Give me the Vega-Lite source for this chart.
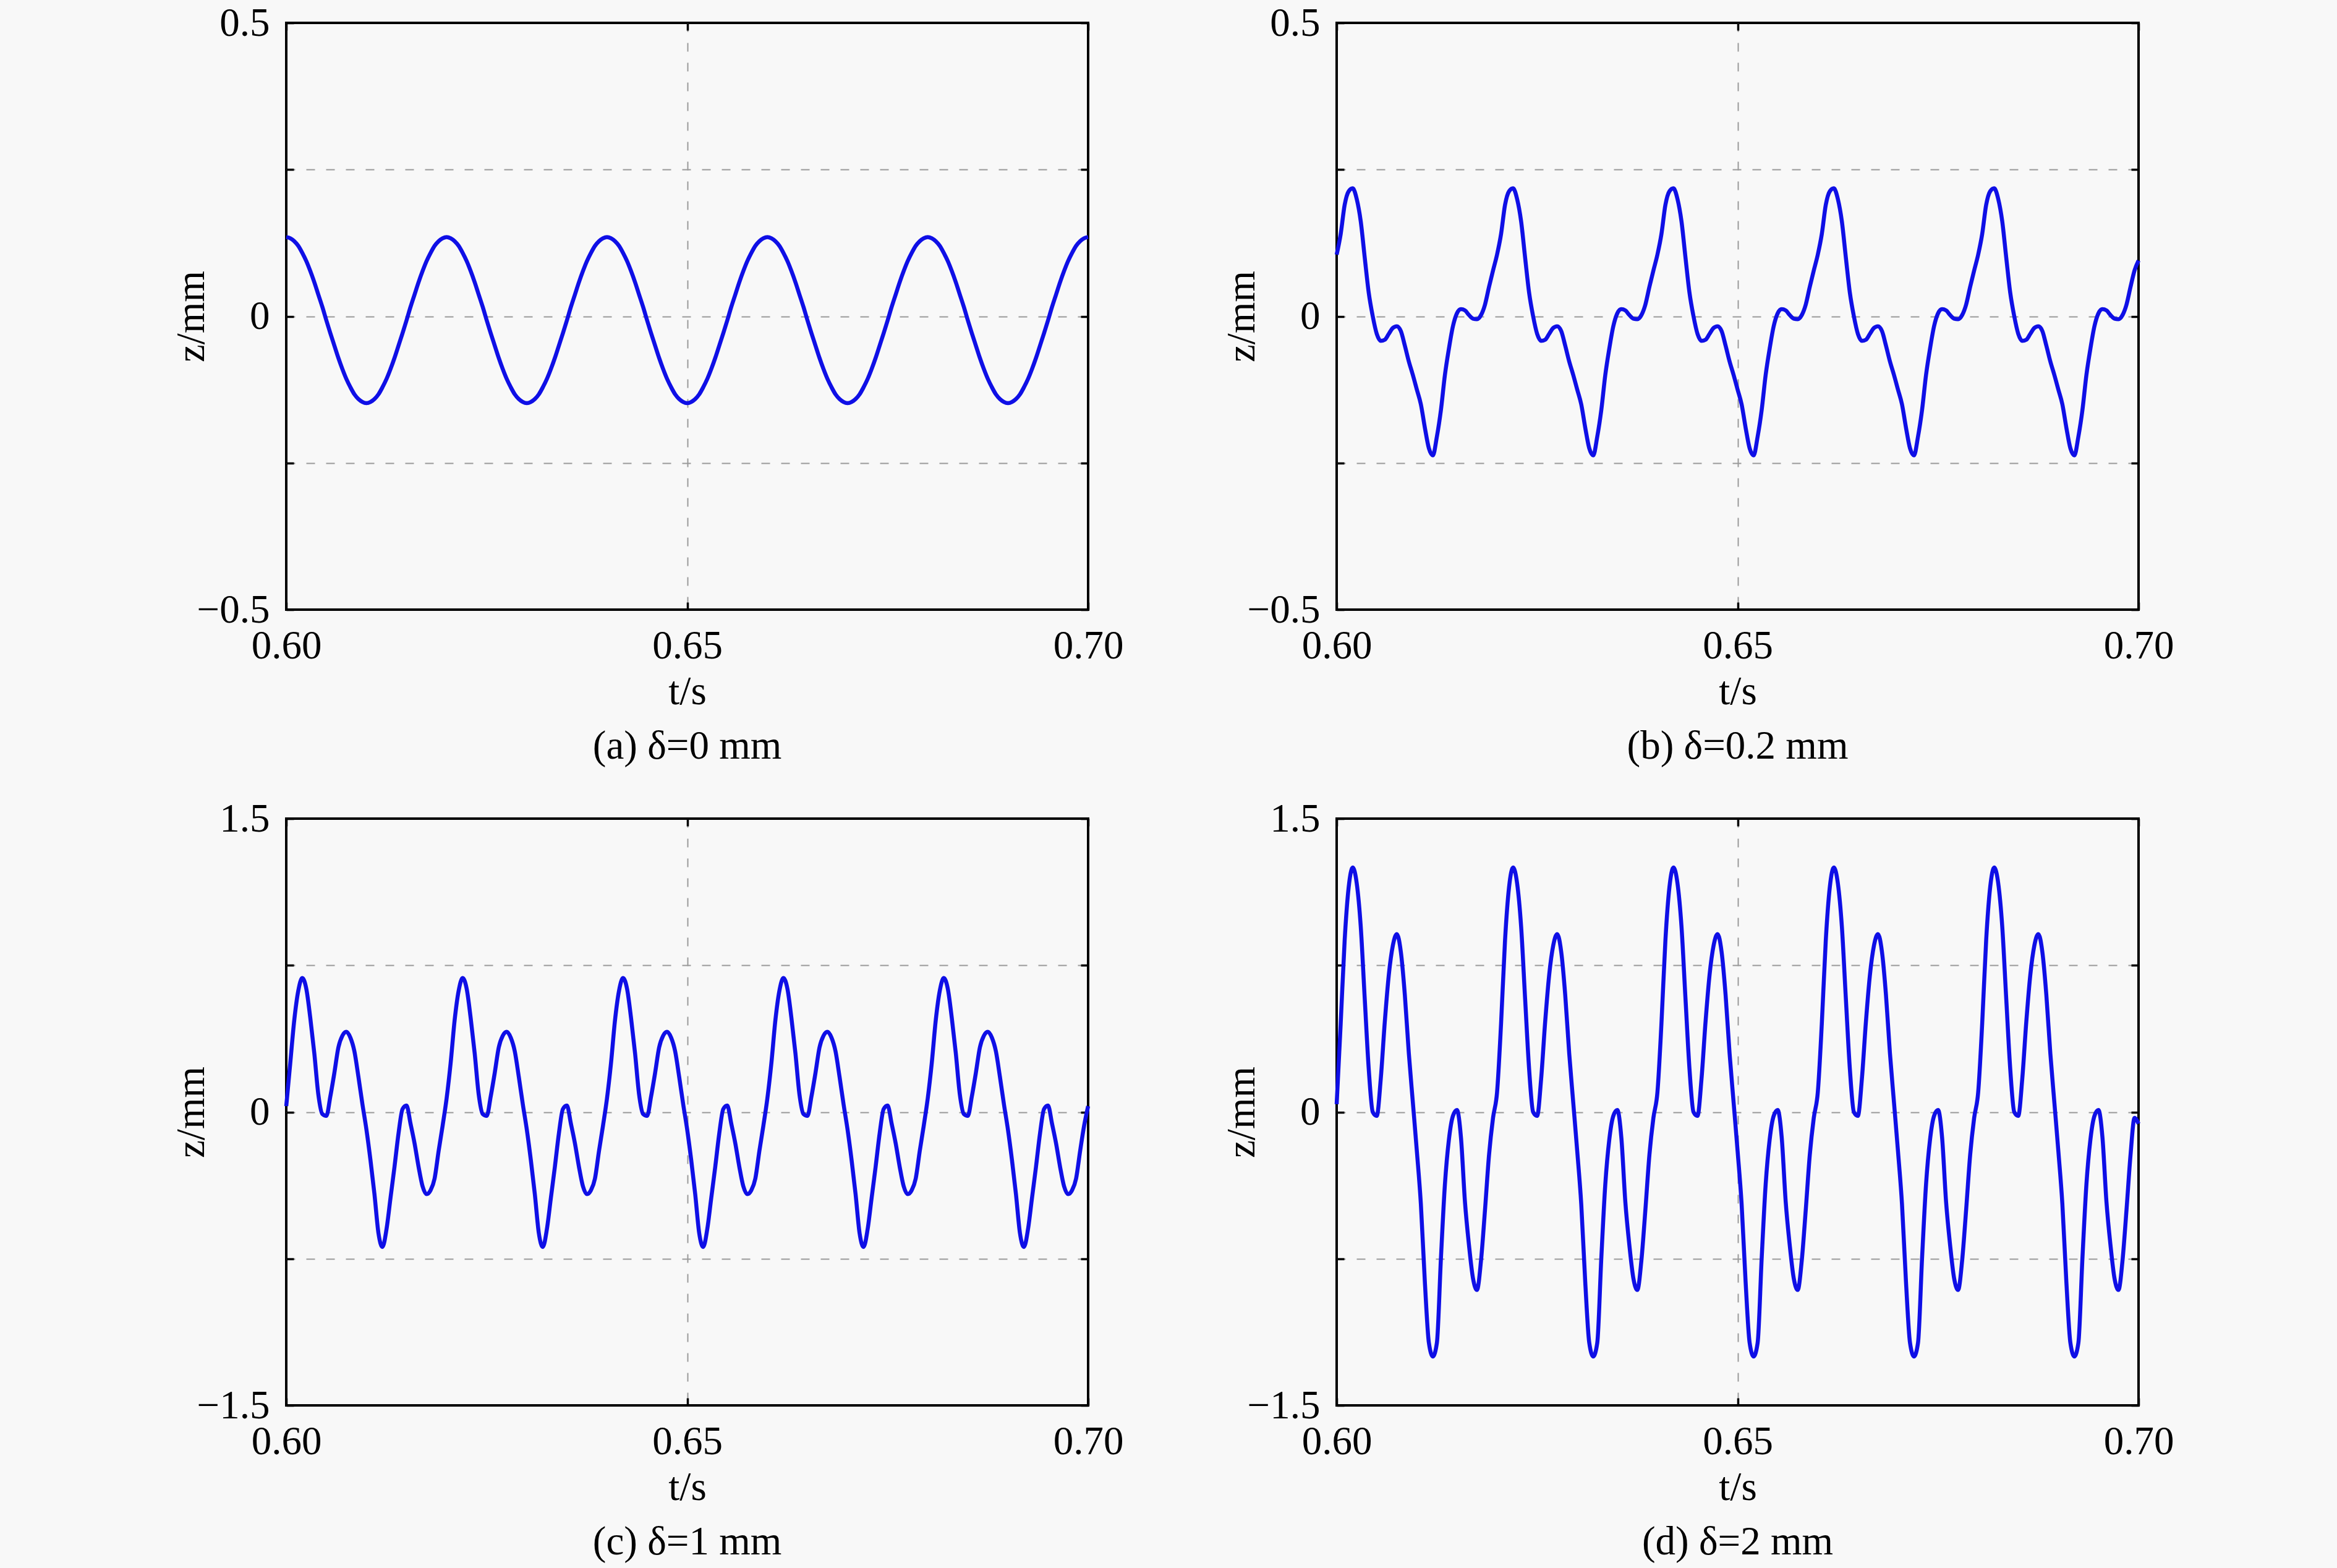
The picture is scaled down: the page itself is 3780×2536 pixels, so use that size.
{
  "$schema": "https://vega.github.io/schema/vega-lite/v6.json",
  "background": "#f8f8f8",
  "padding": {"left": 275, "top": 3, "right": 262, "bottom": 8},
  "bounds": "flush",
  "columns": 2,
  "spacing": {"row": 338, "column": 402},
  "datasets": {
    "z": [
      {"t":0.6,"a":0.135,"b":0.105,"c":0.03,"d":0.04},
      {"t":0.6005,"a":0.133,"b":0.14,"c":0.25,"d":0.45},
      {"t":0.601,"a":0.128,"b":0.19,"c":0.47,"d":0.88},
      {"t":0.6015,"a":0.12,"b":0.213,"c":0.62,"d":1.15},
      {"t":0.602,"a":0.108,"b":0.218,"c":0.685,"d":1.25},
      {"t":0.6025,"a":0.094,"b":0.2,"c":0.63,"d":1.17},
      {"t":0.603,"a":0.077,"b":0.162,"c":0.48,"d":0.95},
      {"t":0.6035,"a":0.058,"b":0.1,"c":0.3,"d":0.58},
      {"t":0.604,"a":0.037,"b":0.04,"c":0.09,"d":0.22},
      {"t":0.6045,"a":0.016,"b":0,"c":-0.01,"d":0},
      {"t":0.605,"a":-0.007,"b":-0.03,"c":-0.02,"d":-0.02},
      {"t":0.6055,"a":-0.029,"b":-0.042,"c":0.08,"d":0.17},
      {"t":0.606,"a":-0.05,"b":-0.04,"c":0.2,"d":0.46},
      {"t":0.6065,"a":-0.071,"b":-0.03,"c":0.33,"d":0.7},
      {"t":0.607,"a":-0.09,"b":-0.02,"c":0.39,"d":0.85},
      {"t":0.6075,"a":-0.107,"b":-0.017,"c":0.41,"d":0.91},
      {"t":0.608,"a":-0.121,"b":-0.025,"c":0.38,"d":0.82},
      {"t":0.6085,"a":-0.133,"b":-0.05,"c":0.31,"d":0.6},
      {"t":0.609,"a":-0.141,"b":-0.077,"c":0.18,"d":0.3},
      {"t":0.6095,"a":-0.146,"b":-0.1,"c":0.04,"d":0.05},
      {"t":0.61,"a":-0.148,"b":-0.125,"c":-0.09,"d":-0.2},
      {"t":0.6105,"a":-0.146,"b":-0.15,"c":-0.245,"d":-0.47},
      {"t":0.611,"a":-0.141,"b":-0.19,"c":-0.42,"d":-0.87},
      {"t":0.6115,"a":-0.133,"b":-0.225,"c":-0.62,"d":-1.18},
      {"t":0.612,"a":-0.121,"b":-0.237,"c":-0.69,"d":-1.25},
      {"t":0.6125,"a":-0.107,"b":-0.205,"c":-0.6,"d":-1.18},
      {"t":0.613,"a":-0.09,"b":-0.16,"c":-0.44,"d":-0.75},
      {"t":0.6135,"a":-0.071,"b":-0.1,"c":-0.28,"d":-0.37},
      {"t":0.614,"a":-0.05,"b":-0.055,"c":-0.11,"d":-0.14},
      {"t":0.6145,"a":-0.029,"b":-0.017,"c":0.015,"d":-0.02},
      {"t":0.615,"a":-0.007,"b":0.005,"c":0.033,"d":0.01},
      {"t":0.6155,"a":0.016,"b":0.012,"c":-0.06,"d":-0.13},
      {"t":0.616,"a":0.037,"b":0.01,"c":-0.16,"d":-0.46},
      {"t":0.6165,"a":0.058,"b":0.002,"c":-0.28,"d":-0.68},
      {"t":0.617,"a":0.077,"b":-0.004,"c":-0.38,"d":-0.85},
      {"t":0.6175,"a":0.094,"b":-0.005,"c":-0.42,"d":-0.91},
      {"t":0.618,"a":0.108,"b":0.002,"c":-0.4,"d":-0.76},
      {"t":0.6185,"a":0.12,"b":0.02,"c":-0.34,"d":-0.5},
      {"t":0.619,"a":0.128,"b":0.05,"c":-0.2,"d":-0.22},
      {"t":0.6195,"a":0.133,"b":0.078,"c":-0.07,"d":-0.03},
      {"t":0.62,"a":0.135,"b":0.105,"c":0.07,"d":0.1},
      {"t":0.6205,"a":0.133,"b":0.14,"c":0.25,"d":0.45},
      {"t":0.621,"a":0.128,"b":0.19,"c":0.47,"d":0.88},
      {"t":0.6215,"a":0.12,"b":0.213,"c":0.62,"d":1.15},
      {"t":0.622,"a":0.108,"b":0.218,"c":0.685,"d":1.25},
      {"t":0.6225,"a":0.094,"b":0.2,"c":0.63,"d":1.17},
      {"t":0.623,"a":0.077,"b":0.162,"c":0.48,"d":0.95},
      {"t":0.6235,"a":0.058,"b":0.1,"c":0.3,"d":0.58},
      {"t":0.624,"a":0.037,"b":0.04,"c":0.09,"d":0.22},
      {"t":0.6245,"a":0.016,"b":0,"c":-0.01,"d":0},
      {"t":0.625,"a":-0.007,"b":-0.03,"c":-0.02,"d":-0.02},
      {"t":0.6255,"a":-0.029,"b":-0.042,"c":0.08,"d":0.17},
      {"t":0.626,"a":-0.05,"b":-0.04,"c":0.2,"d":0.46},
      {"t":0.6265,"a":-0.071,"b":-0.03,"c":0.33,"d":0.7},
      {"t":0.627,"a":-0.09,"b":-0.02,"c":0.39,"d":0.85},
      {"t":0.6275,"a":-0.107,"b":-0.017,"c":0.41,"d":0.91},
      {"t":0.628,"a":-0.121,"b":-0.025,"c":0.38,"d":0.82},
      {"t":0.6285,"a":-0.133,"b":-0.05,"c":0.31,"d":0.6},
      {"t":0.629,"a":-0.141,"b":-0.077,"c":0.18,"d":0.3},
      {"t":0.6295,"a":-0.146,"b":-0.1,"c":0.04,"d":0.05},
      {"t":0.63,"a":-0.148,"b":-0.125,"c":-0.09,"d":-0.2},
      {"t":0.6305,"a":-0.146,"b":-0.15,"c":-0.245,"d":-0.47},
      {"t":0.631,"a":-0.141,"b":-0.19,"c":-0.42,"d":-0.87},
      {"t":0.6315,"a":-0.133,"b":-0.225,"c":-0.62,"d":-1.18},
      {"t":0.632,"a":-0.121,"b":-0.237,"c":-0.69,"d":-1.25},
      {"t":0.6325,"a":-0.107,"b":-0.205,"c":-0.6,"d":-1.18},
      {"t":0.633,"a":-0.09,"b":-0.16,"c":-0.44,"d":-0.75},
      {"t":0.6335,"a":-0.071,"b":-0.1,"c":-0.28,"d":-0.37},
      {"t":0.634,"a":-0.05,"b":-0.055,"c":-0.11,"d":-0.14},
      {"t":0.6345,"a":-0.029,"b":-0.017,"c":0.015,"d":-0.02},
      {"t":0.635,"a":-0.007,"b":0.005,"c":0.033,"d":0.01},
      {"t":0.6355,"a":0.016,"b":0.012,"c":-0.06,"d":-0.13},
      {"t":0.636,"a":0.037,"b":0.01,"c":-0.16,"d":-0.46},
      {"t":0.6365,"a":0.058,"b":0.002,"c":-0.28,"d":-0.68},
      {"t":0.637,"a":0.077,"b":-0.004,"c":-0.38,"d":-0.85},
      {"t":0.6375,"a":0.094,"b":-0.005,"c":-0.42,"d":-0.91},
      {"t":0.638,"a":0.108,"b":0.002,"c":-0.4,"d":-0.76},
      {"t":0.6385,"a":0.12,"b":0.02,"c":-0.34,"d":-0.5},
      {"t":0.639,"a":0.128,"b":0.05,"c":-0.2,"d":-0.22},
      {"t":0.6395,"a":0.133,"b":0.078,"c":-0.07,"d":-0.03},
      {"t":0.64,"a":0.135,"b":0.105,"c":0.07,"d":0.1},
      {"t":0.6405,"a":0.133,"b":0.14,"c":0.25,"d":0.45},
      {"t":0.641,"a":0.128,"b":0.19,"c":0.47,"d":0.88},
      {"t":0.6415,"a":0.12,"b":0.213,"c":0.62,"d":1.15},
      {"t":0.642,"a":0.108,"b":0.218,"c":0.685,"d":1.25},
      {"t":0.6425,"a":0.094,"b":0.2,"c":0.63,"d":1.17},
      {"t":0.643,"a":0.077,"b":0.162,"c":0.48,"d":0.95},
      {"t":0.6435,"a":0.058,"b":0.1,"c":0.3,"d":0.58},
      {"t":0.644,"a":0.037,"b":0.04,"c":0.09,"d":0.22},
      {"t":0.6445,"a":0.016,"b":0,"c":-0.01,"d":0},
      {"t":0.645,"a":-0.007,"b":-0.03,"c":-0.02,"d":-0.02},
      {"t":0.6455,"a":-0.029,"b":-0.042,"c":0.08,"d":0.17},
      {"t":0.646,"a":-0.05,"b":-0.04,"c":0.2,"d":0.46},
      {"t":0.6465,"a":-0.071,"b":-0.03,"c":0.33,"d":0.7},
      {"t":0.647,"a":-0.09,"b":-0.02,"c":0.39,"d":0.85},
      {"t":0.6475,"a":-0.107,"b":-0.017,"c":0.41,"d":0.91},
      {"t":0.648,"a":-0.121,"b":-0.025,"c":0.38,"d":0.82},
      {"t":0.6485,"a":-0.133,"b":-0.05,"c":0.31,"d":0.6},
      {"t":0.649,"a":-0.141,"b":-0.077,"c":0.18,"d":0.3},
      {"t":0.6495,"a":-0.146,"b":-0.1,"c":0.04,"d":0.05},
      {"t":0.65,"a":-0.148,"b":-0.125,"c":-0.09,"d":-0.2},
      {"t":0.6505,"a":-0.146,"b":-0.15,"c":-0.245,"d":-0.47},
      {"t":0.651,"a":-0.141,"b":-0.19,"c":-0.42,"d":-0.87},
      {"t":0.6515,"a":-0.133,"b":-0.225,"c":-0.62,"d":-1.18},
      {"t":0.652,"a":-0.121,"b":-0.237,"c":-0.69,"d":-1.25},
      {"t":0.6525,"a":-0.107,"b":-0.205,"c":-0.6,"d":-1.18},
      {"t":0.653,"a":-0.09,"b":-0.16,"c":-0.44,"d":-0.75},
      {"t":0.6535,"a":-0.071,"b":-0.1,"c":-0.28,"d":-0.37},
      {"t":0.654,"a":-0.05,"b":-0.055,"c":-0.11,"d":-0.14},
      {"t":0.6545,"a":-0.029,"b":-0.017,"c":0.015,"d":-0.02},
      {"t":0.655,"a":-0.007,"b":0.005,"c":0.033,"d":0.01},
      {"t":0.6555,"a":0.016,"b":0.012,"c":-0.06,"d":-0.13},
      {"t":0.656,"a":0.037,"b":0.01,"c":-0.16,"d":-0.46},
      {"t":0.6565,"a":0.058,"b":0.002,"c":-0.28,"d":-0.68},
      {"t":0.657,"a":0.077,"b":-0.004,"c":-0.38,"d":-0.85},
      {"t":0.6575,"a":0.094,"b":-0.005,"c":-0.42,"d":-0.91},
      {"t":0.658,"a":0.108,"b":0.002,"c":-0.4,"d":-0.76},
      {"t":0.6585,"a":0.12,"b":0.02,"c":-0.34,"d":-0.5},
      {"t":0.659,"a":0.128,"b":0.05,"c":-0.2,"d":-0.22},
      {"t":0.6595,"a":0.133,"b":0.078,"c":-0.07,"d":-0.03},
      {"t":0.66,"a":0.135,"b":0.105,"c":0.07,"d":0.1},
      {"t":0.6605,"a":0.133,"b":0.14,"c":0.25,"d":0.45},
      {"t":0.661,"a":0.128,"b":0.19,"c":0.47,"d":0.88},
      {"t":0.6615,"a":0.12,"b":0.213,"c":0.62,"d":1.15},
      {"t":0.662,"a":0.108,"b":0.218,"c":0.685,"d":1.25},
      {"t":0.6625,"a":0.094,"b":0.2,"c":0.63,"d":1.17},
      {"t":0.663,"a":0.077,"b":0.162,"c":0.48,"d":0.95},
      {"t":0.6635,"a":0.058,"b":0.1,"c":0.3,"d":0.58},
      {"t":0.664,"a":0.037,"b":0.04,"c":0.09,"d":0.22},
      {"t":0.6645,"a":0.016,"b":0,"c":-0.01,"d":0},
      {"t":0.665,"a":-0.007,"b":-0.03,"c":-0.02,"d":-0.02},
      {"t":0.6655,"a":-0.029,"b":-0.042,"c":0.08,"d":0.17},
      {"t":0.666,"a":-0.05,"b":-0.04,"c":0.2,"d":0.46},
      {"t":0.6665,"a":-0.071,"b":-0.03,"c":0.33,"d":0.7},
      {"t":0.667,"a":-0.09,"b":-0.02,"c":0.39,"d":0.85},
      {"t":0.6675,"a":-0.107,"b":-0.017,"c":0.41,"d":0.91},
      {"t":0.668,"a":-0.121,"b":-0.025,"c":0.38,"d":0.82},
      {"t":0.6685,"a":-0.133,"b":-0.05,"c":0.31,"d":0.6},
      {"t":0.669,"a":-0.141,"b":-0.077,"c":0.18,"d":0.3},
      {"t":0.6695,"a":-0.146,"b":-0.1,"c":0.04,"d":0.05},
      {"t":0.67,"a":-0.148,"b":-0.125,"c":-0.09,"d":-0.2},
      {"t":0.6705,"a":-0.146,"b":-0.15,"c":-0.245,"d":-0.47},
      {"t":0.671,"a":-0.141,"b":-0.19,"c":-0.42,"d":-0.87},
      {"t":0.6715,"a":-0.133,"b":-0.225,"c":-0.62,"d":-1.18},
      {"t":0.672,"a":-0.121,"b":-0.237,"c":-0.69,"d":-1.25},
      {"t":0.6725,"a":-0.107,"b":-0.205,"c":-0.6,"d":-1.18},
      {"t":0.673,"a":-0.09,"b":-0.16,"c":-0.44,"d":-0.75},
      {"t":0.6735,"a":-0.071,"b":-0.1,"c":-0.28,"d":-0.37},
      {"t":0.674,"a":-0.05,"b":-0.055,"c":-0.11,"d":-0.14},
      {"t":0.6745,"a":-0.029,"b":-0.017,"c":0.015,"d":-0.02},
      {"t":0.675,"a":-0.007,"b":0.005,"c":0.033,"d":0.01},
      {"t":0.6755,"a":0.016,"b":0.012,"c":-0.06,"d":-0.13},
      {"t":0.676,"a":0.037,"b":0.01,"c":-0.16,"d":-0.46},
      {"t":0.6765,"a":0.058,"b":0.002,"c":-0.28,"d":-0.68},
      {"t":0.677,"a":0.077,"b":-0.004,"c":-0.38,"d":-0.85},
      {"t":0.6775,"a":0.094,"b":-0.005,"c":-0.42,"d":-0.91},
      {"t":0.678,"a":0.108,"b":0.002,"c":-0.4,"d":-0.76},
      {"t":0.6785,"a":0.12,"b":0.02,"c":-0.34,"d":-0.5},
      {"t":0.679,"a":0.128,"b":0.05,"c":-0.2,"d":-0.22},
      {"t":0.6795,"a":0.133,"b":0.078,"c":-0.07,"d":-0.03},
      {"t":0.68,"a":0.135,"b":0.105,"c":0.07,"d":0.1},
      {"t":0.6805,"a":0.133,"b":0.14,"c":0.25,"d":0.45},
      {"t":0.681,"a":0.128,"b":0.19,"c":0.47,"d":0.88},
      {"t":0.6815,"a":0.12,"b":0.213,"c":0.62,"d":1.15},
      {"t":0.682,"a":0.108,"b":0.218,"c":0.685,"d":1.25},
      {"t":0.6825,"a":0.094,"b":0.2,"c":0.63,"d":1.17},
      {"t":0.683,"a":0.077,"b":0.162,"c":0.48,"d":0.95},
      {"t":0.6835,"a":0.058,"b":0.1,"c":0.3,"d":0.58},
      {"t":0.684,"a":0.037,"b":0.04,"c":0.09,"d":0.22},
      {"t":0.6845,"a":0.016,"b":0,"c":-0.01,"d":0},
      {"t":0.685,"a":-0.007,"b":-0.03,"c":-0.02,"d":-0.02},
      {"t":0.6855,"a":-0.029,"b":-0.042,"c":0.08,"d":0.17},
      {"t":0.686,"a":-0.05,"b":-0.04,"c":0.2,"d":0.46},
      {"t":0.6865,"a":-0.071,"b":-0.03,"c":0.33,"d":0.7},
      {"t":0.687,"a":-0.09,"b":-0.02,"c":0.39,"d":0.85},
      {"t":0.6875,"a":-0.107,"b":-0.017,"c":0.41,"d":0.91},
      {"t":0.688,"a":-0.121,"b":-0.025,"c":0.38,"d":0.82},
      {"t":0.6885,"a":-0.133,"b":-0.05,"c":0.31,"d":0.6},
      {"t":0.689,"a":-0.141,"b":-0.077,"c":0.18,"d":0.3},
      {"t":0.6895,"a":-0.146,"b":-0.1,"c":0.04,"d":0.05},
      {"t":0.69,"a":-0.148,"b":-0.125,"c":-0.09,"d":-0.2},
      {"t":0.6905,"a":-0.146,"b":-0.15,"c":-0.245,"d":-0.47},
      {"t":0.691,"a":-0.141,"b":-0.19,"c":-0.42,"d":-0.87},
      {"t":0.6915,"a":-0.133,"b":-0.225,"c":-0.62,"d":-1.18},
      {"t":0.692,"a":-0.121,"b":-0.237,"c":-0.69,"d":-1.25},
      {"t":0.6925,"a":-0.107,"b":-0.205,"c":-0.6,"d":-1.18},
      {"t":0.693,"a":-0.09,"b":-0.16,"c":-0.44,"d":-0.75},
      {"t":0.6935,"a":-0.071,"b":-0.1,"c":-0.28,"d":-0.37},
      {"t":0.694,"a":-0.05,"b":-0.055,"c":-0.11,"d":-0.14},
      {"t":0.6945,"a":-0.029,"b":-0.017,"c":0.015,"d":-0.02},
      {"t":0.695,"a":-0.007,"b":0.005,"c":0.033,"d":0.01},
      {"t":0.6955,"a":0.016,"b":0.012,"c":-0.06,"d":-0.13},
      {"t":0.696,"a":0.037,"b":0.01,"c":-0.16,"d":-0.46},
      {"t":0.6965,"a":0.058,"b":0.002,"c":-0.28,"d":-0.68},
      {"t":0.697,"a":0.077,"b":-0.004,"c":-0.38,"d":-0.85},
      {"t":0.6975,"a":0.094,"b":-0.005,"c":-0.42,"d":-0.91},
      {"t":0.698,"a":0.108,"b":0.002,"c":-0.4,"d":-0.76},
      {"t":0.6985,"a":0.12,"b":0.02,"c":-0.34,"d":-0.5},
      {"t":0.699,"a":0.128,"b":0.05,"c":-0.2,"d":-0.22},
      {"t":0.6995,"a":0.133,"b":0.078,"c":-0.07,"d":-0.03},
      {"t":0.7,"a":0.135,"b":0.095,"c":0.03,"d":-0.06}
    ]
  },
  "config": {
    "font": "Liberation Serif",
    "view": {"stroke": "#000000", "strokeWidth": 4},
    "axis": {
      "labelFont": "Liberation Serif",
      "labelFontSize": 65,
      "labelColor": "#000000",
      "titleFont": "Liberation Serif",
      "titleFontSize": 65,
      "titleFontWeight": "normal",
      "titleColor": "#000000",
      "domain": false,
      "ticks": true,
      "tickSize": -12,
      "tickWidth": 3.5,
      "tickColor": "#000000",
      "grid": true,
      "gridColor": "#999999",
      "gridWidth": 2,
      "gridDash": [14, 18],
      "labelFlush": false,
      "labelOverlap": false
    },
    "title": {
      "font": "Liberation Serif",
      "fontSize": 65,
      "fontWeight": "normal",
      "color": "#000000",
      "orient": "bottom",
      "anchor": "middle",
      "frame": "group",
      "offset": 25
    },
    "line": {"color": "#0f0fe6", "strokeWidth": 6.5, "interpolate": "monotone"}
  },
  "concat": [
    {
      "title": "(a) δ=0 mm",
      "width": 1297,
      "height": 949,
      "data": {"name": "z"},
      "layer": [
        {
          "mark": "line",
          "encoding": {
            "x": {"field": "t", "type": "quantitative",
              "scale": {"domain": [0.6, 0.7], "nice": false, "zero": false},
              "axis": {"values": [0.6, 0.65, 0.7], "format": ".2f", "title": "t/s", "labelPadding": 39, "titlePadding": 10,
                "gridOpacity": {"condition": {"test": "datum.value < 0.601 || datum.value > 0.699", "value": 0}, "value": 1}}},
            "y": {"field": "a", "type": "quantitative",
              "scale": {"domain": [-0.5, 0.5], "nice": false},
              "axis": {"values": [-0.5, -0.25, 0, 0.25, 0.5], "labelExpr": "datum.value == 0 ? '0' : abs(datum.value) == 0.5 ? format(datum.value, '.1f') : ''", "title": "z/mm", "labelPadding": 39, "titleX": -134, "titleY": 474.5, "titleBaseline": "alphabetic", "titleAlign": "center", "titleAngle": -90,
                "gridOpacity": {"condition": {"test": "abs(datum.value) == 0.5", "value": 0}, "value": 1}}}
          }
        },
        {
          "mark": {"type": "line", "opacity": 0},
          "encoding": {
            "x": {"field": "t", "type": "quantitative", "scale": {"domain": [0.6, 0.7], "nice": false, "zero": false},
              "axis": {"orient": "top", "values": [0.6, 0.65, 0.7], "labels": false, "title": null, "grid": false}},
            "y": {"field": "a", "type": "quantitative", "scale": {"domain": [-0.5, 0.5], "nice": false},
              "axis": {"orient": "right", "values": [-0.5, -0.25, 0, 0.25, 0.5], "labels": false, "title": null, "grid": false}}
          }
        }
      ],
      "resolve": {"axis": {"x": "independent", "y": "independent"}}
    },
    {
      "title": "(b) δ=0.2 mm",
      "width": 1297,
      "height": 949,
      "data": {"name": "z"},
      "layer": [
        {
          "mark": "line",
          "encoding": {
            "x": {"field": "t", "type": "quantitative",
              "scale": {"domain": [0.6, 0.7], "nice": false, "zero": false},
              "axis": {"values": [0.6, 0.65, 0.7], "format": ".2f", "title": "t/s", "labelPadding": 39, "titlePadding": 10,
                "gridOpacity": {"condition": {"test": "datum.value < 0.601 || datum.value > 0.699", "value": 0}, "value": 1}}},
            "y": {"field": "b", "type": "quantitative",
              "scale": {"domain": [-0.5, 0.5], "nice": false},
              "axis": {"values": [-0.5, -0.25, 0, 0.25, 0.5], "labelExpr": "datum.value == 0 ? '0' : abs(datum.value) == 0.5 ? format(datum.value, '.1f') : ''", "title": "z/mm", "labelPadding": 39, "titleX": -134, "titleY": 474.5, "titleBaseline": "alphabetic", "titleAlign": "center", "titleAngle": -90,
                "gridOpacity": {"condition": {"test": "abs(datum.value) == 0.5", "value": 0}, "value": 1}}}
          }
        },
        {
          "mark": {"type": "line", "opacity": 0},
          "encoding": {
            "x": {"field": "t", "type": "quantitative", "scale": {"domain": [0.6, 0.7], "nice": false, "zero": false},
              "axis": {"orient": "top", "values": [0.6, 0.65, 0.7], "labels": false, "title": null, "grid": false}},
            "y": {"field": "b", "type": "quantitative", "scale": {"domain": [-0.5, 0.5], "nice": false},
              "axis": {"orient": "right", "values": [-0.5, -0.25, 0, 0.25, 0.5], "labels": false, "title": null, "grid": false}}
          }
        }
      ],
      "resolve": {"axis": {"x": "independent", "y": "independent"}}
    },
    {
      "title": "(c) δ=1 mm",
      "width": 1297,
      "height": 949,
      "data": {"name": "z"},
      "layer": [
        {
          "mark": "line",
          "encoding": {
            "x": {"field": "t", "type": "quantitative",
              "scale": {"domain": [0.6, 0.7], "nice": false, "zero": false},
              "axis": {"values": [0.6, 0.65, 0.7], "format": ".2f", "title": "t/s", "labelPadding": 39, "titlePadding": 10,
                "gridOpacity": {"condition": {"test": "datum.value < 0.601 || datum.value > 0.699", "value": 0}, "value": 1}}},
            "y": {"field": "c", "type": "quantitative",
              "scale": {"domain": [-1.5, 1.5], "nice": false},
              "axis": {"values": [-1.5, -0.75, 0, 0.75, 1.5], "labelExpr": "datum.value == 0 ? '0' : abs(datum.value) == 1.5 ? format(datum.value, '.1f') : ''", "title": "z/mm", "labelPadding": 39, "titleX": -134, "titleY": 474.5, "titleBaseline": "alphabetic", "titleAlign": "center", "titleAngle": -90,
                "gridOpacity": {"condition": {"test": "abs(datum.value) == 1.5", "value": 0}, "value": 1}}}
          }
        },
        {
          "mark": {"type": "line", "opacity": 0},
          "encoding": {
            "x": {"field": "t", "type": "quantitative", "scale": {"domain": [0.6, 0.7], "nice": false, "zero": false},
              "axis": {"orient": "top", "values": [0.6, 0.65, 0.7], "labels": false, "title": null, "grid": false}},
            "y": {"field": "c", "type": "quantitative", "scale": {"domain": [-1.5, 1.5], "nice": false},
              "axis": {"orient": "right", "values": [-1.5, -0.75, 0, 0.75, 1.5], "labels": false, "title": null, "grid": false}}
          }
        }
      ],
      "resolve": {"axis": {"x": "independent", "y": "independent"}}
    },
    {
      "title": "(d) δ=2 mm",
      "width": 1297,
      "height": 949,
      "data": {"name": "z"},
      "layer": [
        {
          "mark": "line",
          "encoding": {
            "x": {"field": "t", "type": "quantitative",
              "scale": {"domain": [0.6, 0.7], "nice": false, "zero": false},
              "axis": {"values": [0.6, 0.65, 0.7], "format": ".2f", "title": "t/s", "labelPadding": 39, "titlePadding": 10,
                "gridOpacity": {"condition": {"test": "datum.value < 0.601 || datum.value > 0.699", "value": 0}, "value": 1}}},
            "y": {"field": "d", "type": "quantitative",
              "scale": {"domain": [-1.5, 1.5], "nice": false},
              "axis": {"values": [-1.5, -0.75, 0, 0.75, 1.5], "labelExpr": "datum.value == 0 ? '0' : abs(datum.value) == 1.5 ? format(datum.value, '.1f') : ''", "title": "z/mm", "labelPadding": 39, "titleX": -134, "titleY": 474.5, "titleBaseline": "alphabetic", "titleAlign": "center", "titleAngle": -90,
                "gridOpacity": {"condition": {"test": "abs(datum.value) == 1.5", "value": 0}, "value": 1}}}
          }
        },
        {
          "mark": {"type": "line", "opacity": 0},
          "encoding": {
            "x": {"field": "t", "type": "quantitative", "scale": {"domain": [0.6, 0.7], "nice": false, "zero": false},
              "axis": {"orient": "top", "values": [0.6, 0.65, 0.7], "labels": false, "title": null, "grid": false}},
            "y": {"field": "d", "type": "quantitative", "scale": {"domain": [-1.5, 1.5], "nice": false},
              "axis": {"orient": "right", "values": [-1.5, -0.75, 0, 0.75, 1.5], "labels": false, "title": null, "grid": false}}
          }
        }
      ],
      "resolve": {"axis": {"x": "independent", "y": "independent"}}
    }
  ]
}
